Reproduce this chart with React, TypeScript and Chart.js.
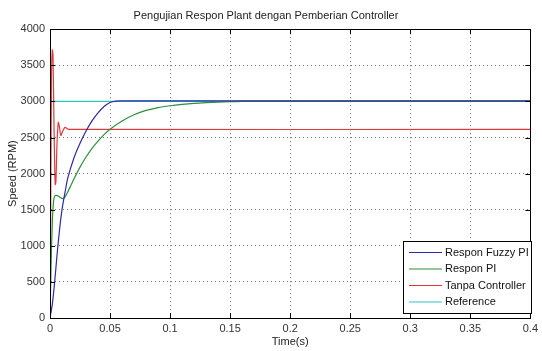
import React, { useEffect, useRef } from "react";
import { Chart, registerables } from "chart.js";

Chart.register(...registerables);

const chartTitle = "Pengujian Respon Plant dengan Pemberian Controller";
const xTitle = "Time(s)";
const yTitle = "Speed (RPM)";

const xTicks = [0, 0.05, 0.1, 0.15, 0.2, 0.25, 0.3, 0.35, 0.4];
const xTickLabels = ["0", "0.05", "0.1", "0.15", "0.2", "0.25", "0.3", "0.35", "0.4"];
const yTicks = [0, 500, 1000, 1500, 2000, 2500, 3000, 3500, 4000];
const yTickLabels = ["0", "500", "1000", "1500", "2000", "2500", "3000", "3500", "4000"];

const seriesNames = ["Respon Fuzzy PI", "Respon PI", "Tanpa Controller", "Reference"];
const seriesColors = ["#2b2ba6", "#2f8f3f", "#e0393b", "#2fc3c3"];

const tFuzzy = [0, 0.002, 0.004, 0.006, 0.008, 0.01, 0.0125, 0.015, 0.02, 0.025, 0.03, 0.035, 0.04, 0.045, 0.05, 0.055, 0.06, 0.4];
const vFuzzy = [0, 200, 520, 900, 1230, 1500, 1740, 1950, 2220, 2420, 2590, 2730, 2840, 2930, 2985, 3005, 3008, 3008];

const tPI = [0, 0.001, 0.002, 0.003, 0.004, 0.006, 0.008, 0.01, 0.012, 0.014, 0.0175, 0.02, 0.025, 0.03, 0.035, 0.04, 0.045, 0.05, 0.06, 0.07, 0.08, 0.09, 0.1, 0.11, 0.12, 0.13, 0.14, 0.15, 0.16, 0.4];
const vPI = [0, 800, 1350, 1620, 1690, 1695, 1675, 1655, 1665, 1720, 1840, 1930, 2090, 2230, 2350, 2450, 2540, 2615, 2730, 2815, 2875, 2915, 2940, 2958, 2972, 2982, 2990, 2996, 3000, 3000];

const tNoCtrl = [0, 0.0006, 0.0012, 0.0019, 0.0025, 0.0033, 0.0043, 0.0049, 0.0058, 0.0069, 0.0078, 0.009, 0.0105, 0.0125, 0.0145, 0.016, 0.4];
const vNoCtrl = [0, 1500, 3300, 3710, 3640, 2700, 1850, 1880, 2400, 2710, 2650, 2530, 2585, 2640, 2620, 2612, 2612];

const tRef = [0, 0.4];
const vRef = [3000, 3000];

const FONT = "'Liberation Sans', Arial, sans-serif";

const toPoints = (t: number[], v: number[]) => t.map((x, i) => ({ x, y: v[i] }));

const framePlugin = {
  id: "frame",
  afterDatasetsDraw(chart: any) {
    const { ctx, chartArea } = chart;
    const { left, right, top, bottom } = chartArea;
    const xs = chart.scales.x;
    const ys = chart.scales.y;
    ctx.save();
    ctx.strokeStyle = "#000";
    ctx.lineWidth = 1;
    ctx.strokeRect(Math.round(left) + 0.5, Math.round(top) + 0.5, Math.round(right - left), Math.round(bottom - top));
    ctx.beginPath();
    const tl = 5;
    xTicks.forEach((t) => {
      const px = Math.round(xs.getPixelForValue(t)) + 0.5;
      ctx.moveTo(px, top);
      ctx.lineTo(px, top + tl);
      ctx.moveTo(px, bottom);
      ctx.lineTo(px, bottom - tl);
    });
    yTicks.forEach((v) => {
      const py = Math.round(ys.getPixelForValue(v)) + 0.5;
      ctx.moveTo(left, py);
      ctx.lineTo(left + tl, py);
      ctx.moveTo(right, py);
      ctx.lineTo(right - tl, py);
    });
    ctx.stroke();

    // legend box
    const bx = 403, by = 241, bw = 128, bh = 72;
    ctx.fillStyle = "#fff";
    ctx.fillRect(bx, by, bw, bh);
    ctx.strokeStyle = "#000";
    ctx.strokeRect(bx + 0.5, by + 0.5, bw, bh);
    ctx.font = `11px ${FONT}`;
    ctx.textBaseline = "middle";
    ctx.textAlign = "left";
    seriesNames.forEach((name, i) => {
      const y = by + 11.5 + i * 16.5;
      ctx.strokeStyle = seriesColors[i];
      ctx.lineWidth = 1.2;
      ctx.beginPath();
      ctx.moveTo(bx + 6, y);
      ctx.lineTo(bx + 39, y);
      ctx.stroke();
      ctx.fillStyle = "#111";
      ctx.fillText(name, bx + 42, y);
    });
    ctx.restore();
  },
};

export default function App() {
  const ref = useRef<HTMLCanvasElement | null>(null);

  useEffect(() => {
    document.body.style.margin = "0";
    const canvas = ref.current;
    if (!canvas) return;
    const mk = (i: number, t: number[], v: number[], order: number) => ({
      label: seriesNames[i],
      data: toPoints(t, v),
      borderColor: seriesColors[i],
      backgroundColor: seriesColors[i],
      borderWidth: 1.2,
      pointRadius: 0,
      showLine: true,
      tension: 0.3,
      order,
    });
    const chart = new Chart(canvas, {
      type: "scatter",
      data: {
        datasets: [
          mk(0, tFuzzy, vFuzzy, 1),
          mk(1, tPI, vPI, 2),
          mk(2, tNoCtrl, vNoCtrl, 3),
          mk(3, tRef, vRef, 4),
        ],
      },
      options: {
        animation: false,
        responsive: false,
        devicePixelRatio: 1,
        layout: { padding: { left: 0, right: 10, top: 0, bottom: 0 } },
        plugins: {
          legend: { display: false },
          tooltip: { enabled: false },
          title: {
            display: true,
            text: chartTitle,
            color: "#222",
            font: { family: FONT, size: 11, weight: "normal", lineHeight: 1.2 },
            padding: { top: 9, bottom: 7 },
          },
        },
        scales: {
          x: {
            type: "linear",
            min: 0,
            max: 0.4,
            afterBuildTicks: (s: any) => {
              s.ticks = xTicks.map((value) => ({ value }));
            },
            afterFit: (s: any) => {
              s.height = 33;
            },
            ticks: {
              color: "#333",
              font: { family: FONT, size: 11 },
              padding: 4,
              maxRotation: 0,
              autoSkip: false,
              callback: (_v: any, i: number) => xTickLabels[i],
            },
            grid: {
              color: "rgba(0,0,0,0.55)",
              lineWidth: 1,
              drawTicks: false,
            },
            border: { display: true, color: "#000", dash: [1, 3] },
            title: {
              display: true,
              text: xTitle,
              color: "#222",
              font: { family: FONT, size: 11 },
              padding: { top: 0, bottom: 2 },
            },
          },
          y: {
            type: "linear",
            min: 0,
            max: 4000,
            afterBuildTicks: (s: any) => {
              s.ticks = yTicks.map((value) => ({ value }));
            },
            afterFit: (s: any) => {
              s.width = 50;
            },
            ticks: {
              color: "#333",
              font: { family: FONT, size: 11 },
              padding: 5,
              autoSkip: false,
              callback: (_v: any, i: number) => yTickLabels[i],
            },
            grid: {
              color: "rgba(0,0,0,0.55)",
              lineWidth: 1,
              drawTicks: false,
            },
            border: { display: true, color: "#000", dash: [1, 3] },
            title: {
              display: true,
              text: yTitle,
              color: "#222",
              font: { family: FONT, size: 11 },
              padding: { top: 6, bottom: 0 },
            },
          },
        },
      } as any,
      plugins: [framePlugin],
    });
    return () => chart.destroy();
  }, []);

  return (
    <div style={{ position: "absolute", left: 0, top: 0, width: 542, height: 351, background: "#fff" }}>
      <canvas ref={ref} width={542} height={351} style={{ display: "block" }} />
    </div>
  );
}
